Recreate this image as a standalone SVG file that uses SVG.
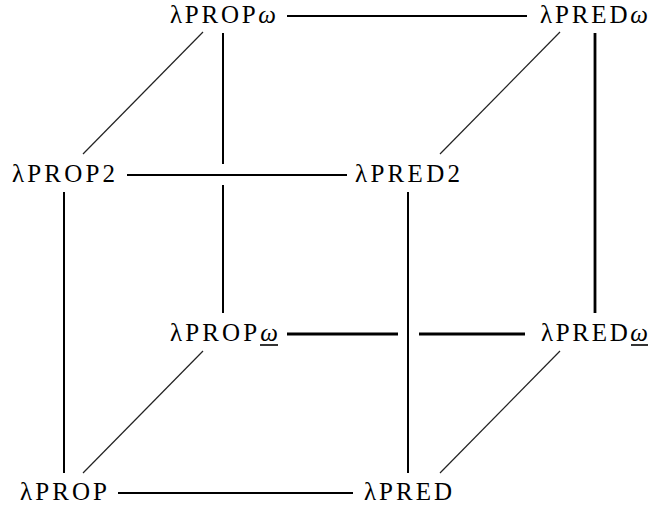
<svg xmlns="http://www.w3.org/2000/svg" width="649" height="509" viewBox="0 0 649 509">
<style>
.lbl{font-family:"Liberation Serif","DejaVu Serif",serif;font-size:25px;fill:#000}
.w{font-style:italic}
.e{stroke:#000;stroke-width:2;fill:none}
.t{stroke:#000;stroke-width:2.8;fill:none}
.d{stroke:#222;stroke-width:1.2;fill:none}
.u{stroke:#000;stroke-width:1.6}
</style>
<rect width="649" height="509" fill="#fff"/>
<g id="connectors">
<line class="e" x1="287" y1="16" x2="527" y2="16"/>
<line class="e" x1="127" y1="175" x2="347" y2="175"/>
<line class="t" x1="287" y1="334" x2="398" y2="334"/>
<line class="t" x1="419" y1="334" x2="525" y2="334"/>
<line class="e" x1="118" y1="493" x2="353" y2="493"/>
<line class="e" x1="223" y1="33" x2="223" y2="164"/>
<line class="e" x1="223" y1="185" x2="223" y2="313"/>
<line class="t" x1="595" y1="33" x2="595" y2="313"/>
<line class="e" x1="64" y1="192" x2="64" y2="473"/>
<line class="e" x1="408" y1="192" x2="408" y2="473"/>
<line class="d" x1="203" y1="32" x2="83" y2="154"/>
<line class="d" x1="560" y1="32" x2="440" y2="154"/>
<line class="d" x1="203" y1="351" x2="83" y2="473"/>
<line class="d" x1="560" y1="351" x2="440" y2="473"/>
</g>
<g id="propw"><text class="lbl" x="170" y="23" textLength="106" lengthAdjust="spacing">λPROP<tspan class="w">ω</tspan></text></g>
<g id="predw"><text class="lbl" x="540" y="23" textLength="108" lengthAdjust="spacing">λPRED<tspan class="w">ω</tspan></text></g>
<g id="prop2"><text class="lbl" x="12" y="182" textLength="103" lengthAdjust="spacing">λPROP2</text></g>
<g id="pred2"><text class="lbl" x="355" y="182" textLength="105" lengthAdjust="spacing">λPRED2</text></g>
<g id="propwu"><text class="lbl" x="170" y="341" textLength="108" lengthAdjust="spacing">λPROP<tspan class="w">ω</tspan></text><line class="u" x1="260" y1="345" x2="278" y2="345"/></g>
<g id="predwu"><text class="lbl" x="541" y="341" textLength="107" lengthAdjust="spacing">λPRED<tspan class="w">ω</tspan></text><line class="u" x1="631" y1="345" x2="648" y2="345"/></g>
<g id="prop"><text class="lbl" x="20" y="500" textLength="87" lengthAdjust="spacing">λPROP</text></g>
<g id="pred"><text class="lbl" x="364" y="500" textLength="88" lengthAdjust="spacing">λPRED</text></g>
</svg>
